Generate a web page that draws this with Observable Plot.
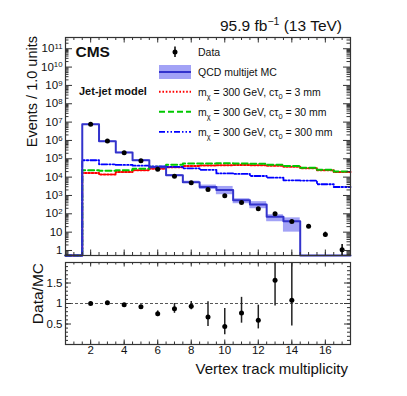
<!DOCTYPE html>
<html><head><meta charset="utf-8">
<script src="https://cdn.jsdelivr.net/npm/d3@7"></script>
<script src="https://cdn.jsdelivr.net/npm/@observablehq/plot@0.6"></script>
<style>
body{margin:0;background:#fff;}
#wrap{position:relative;width:407px;height:396px;font-family:"Liberation Sans",Arial,sans-serif;}
#wrap > svg{position:absolute;left:0;}
</style></head><body><div id="wrap"></div>
<script>
// ---- data ----
const bins = [1,2,3,4,5,6,7,8,9,10,11,12,13,14,15,16,17];
const mcQCD   = [0, 7.7e6, 9.1e5, 2.2e5, 8.3e4, 3.5e4, 1.26e4, 5.3e3, 2.9e3, 2.0e3, 540, 325, 70, 39, 0, 0, 0];
const mcLo    = [0, 7.5e6, 8.8e5, 2.1e5, 7.8e4, 3.2e4, 1.15e4, 4.6e3, 2.1e3, 1.1e3, 355, 190, 37, 10, 0, 0, 0];
const mcHi    = [0, 7.9e6, 9.4e5, 2.3e5, 8.8e4, 3.8e4, 1.38e4, 6.0e3, 3.7e3, 3.1e3, 665, 460, 89, 60, 0, 0, 0];
const sig3mm   = [0, 1.7e4, 1.4e4, 1.9e4, 2.4e4, 2.9e4, 3.5e4, 4.0e4, 4.3e4, 4.5e4, 4.6e4, 4.5e4, 4.2e4, 3.7e4, 3.0e4, 2.4e4, 1.9e4];
const sig30mm  = [0, 2.4e4, 2.2e4, 2.4e4, 2.9e4, 3.7e4, 4.8e4, 5.5e4, 5.6e4, 5.7e4, 5.6e4, 5.3e4, 4.7e4, 4.0e4, 3.2e4, 2.5e4, 2.0e4];
const sig300mm = [0, 8.3e4, 5.0e4, 4.6e4, 4.2e4, 3.9e4, 3.6e4, 3.0e4, 2.5e4, 1.6e4, 1.5e4, 1.15e4, 9.3e3, 6.7e3, 6.5e3, 4.1e3, 2.9e3];
const dataBins = [2,3,4,5,6,7,8,9,10,11,12,13,14,15,16,17];
const dataVal  = [7.7e6, 9.3e5, 2.1e5, 7.7e4, 2.7e4, 1.1e4, 5.0e3, 2.1e3, 950, 410, 190, 100, 38, 21, 7.4, 1.1];
const dataLo   = [7.69e6, 9.28e5, 2.09e5, 7.6e4, 2.65e4, 1.08e4, 4.9e3, 2.05e3, 920, 390, 176, 90, 32, 16, 5.4, 0.1];
const dataHi   = [7.71e6, 9.32e5, 2.11e5, 7.8e4, 2.75e4, 1.12e4, 5.1e3, 2.15e3, 980, 430, 204, 110, 45, 26, 10, 2.1];
const ratioBins = [2,3,4,5,6,7,8,9,10,11,12,13,14];
const ratioVal  = [1.00, 1.02, 0.97, 0.92, 0.75, 0.87, 0.93, 0.67, 0.44, 0.77, 0.59, 1.57, 1.08];
const ratioLo   = [0.99, 1.01, 0.95, 0.88, 0.68, 0.76, 0.85, 0.44, 0.24, 0.52, 0.38, 0.94, 0.45];
const ratioHi   = [1.01, 1.03, 0.99, 0.96, 0.82, 1.00, 1.05, 1.04, 0.88, 1.15, 0.96, 2.20, 2.20];
const yTicksTop = [1,10,1e2,1e3,1e4,1e5,1e6,1e7,1e8,1e9,1e10,1e11];
const xTicks = [2,4,6,8,10,12,14,16];
const ratioTicks = [0.5,1,1.5];
const legendLabels = ["Data","QCD multijet MC","3 mm","30 mm","300 mm"];

// ---- styles ----
const mcColor = "#3333cc", bandColor = "#6464f0";
const sigStyles = [
  {vals: sig3mm,   stroke:"#ff0000", dash:"1.6,1.8", w:2},
  {vals: sig30mm,  stroke:"#00c800", dash:"6,3", w:2},
  {vals: sig300mm, stroke:"#0000ff", dash:"6,2,1.5,2,1.5,2", w:1.8}
];
const axisCol = "#333";
const font = '"Liberation Sans", Arial, sans-serif';

const W = 407;
const xDom = [0.5, 17.5];
const yDom = [0.533, 4.1e11];
const topH = 258, topMT = 37, topMB = 3, ML = 65, MR = 57;
const fw = W - ML - MR, fhTop = topH - topMT - topMB;

const edges = bins.map(b => b - 0.5).concat([bins[bins.length-1] + 0.5]);
const stepData = vals => edges.map((e, i) => ({x: e, y: Math.max(vals[Math.min(i, vals.length-1)], yDom[0])}));
const band = bins.map((b,i) => ({x1: b-0.5, x2: b+0.5, lo: mcLo[i], hi: mcHi[i]})).filter(d => d.hi > 0);
const dataPts = dataBins.map((b,i) => ({x:b, y:dataVal[i], lo:dataLo[i], hi:dataHi[i]}));
const ratioPts = ratioBins.map((b,i) => ({x:b, y:ratioVal[i], lo:ratioLo[i], hi:ratioHi[i]}));

const logMinor = [];
for (let e = -1; e <= 11; e++) for (let k = 2; k <= 9; k++) { const v = k * 10**e; if (v >= yDom[0] && v <= yDom[1]) logMinor.push(v); }
const xMinor = d3.range(1, 35).map(i => i*0.5).filter(v => v > xDom[0] && v < xDom[1]);
const rMinor = d3.range(1, 20).map(i => i/10);

const tickMarksY = (maj, minr, w, lMaj, lMin) => [
  Plot.tickY(maj, {y: d=>d, insetRight: w - lMaj, stroke: axisCol}),
  Plot.tickY(maj, {y: d=>d, insetLeft: w - lMaj, stroke: axisCol}),
  Plot.tickY(minr, {y: d=>d, insetRight: w - lMin, stroke: axisCol}),
  Plot.tickY(minr, {y: d=>d, insetLeft: w - lMin, stroke: axisCol})
];
const tickMarksX = (maj, minr, h, lMaj, lMin) => [
  Plot.tickX(maj, {x: d=>d, insetTop: h - lMaj, stroke: axisCol}),
  Plot.tickX(maj, {x: d=>d, insetBottom: h - lMaj, stroke: axisCol}),
  Plot.tickX(minr, {x: d=>d, insetTop: h - lMin, stroke: axisCol}),
  Plot.tickX(minr, {x: d=>d, insetBottom: h - lMin, stroke: axisCol})
];

const fmtTop = d => d === 1 ? "1" : d === 10 ? "10" : "10^" + Math.round(Math.log10(d));

const topPlot = Plot.plot({
  width: W, height: topH, marginLeft: ML, marginRight: MR, marginTop: topMT, marginBottom: topMB,
  style: {fontFamily: font, fontSize: "11.5px", color: "#111", background: "transparent"},
  x: {domain: xDom, axis: null},
  y: {type: "log", domain: yDom},
  marks: [
    Plot.rect(band, {x1:"x1", x2:"x2", y1:"lo", y2:"hi", fill: bandColor, fillOpacity: 0.6}),
    ...sigStyles.map(s => Plot.line(stepData(s.vals), {x:"x", y:"y", curve:"step-after", stroke:s.stroke, strokeWidth:s.w, strokeDasharray:s.dash})),
    Plot.line(stepData(mcQCD), {x:"x", y:"y", curve:"step-after", stroke: mcColor, strokeWidth: 2}),
    Plot.ruleX(dataPts, {x:"x", y1:"lo", y2:"hi", stroke:"black", strokeWidth:1.5, clip:true}),
    Plot.dot(dataPts, {x:"x", y:"y", r:2.5, fill:"black"}),
    ...tickMarksY(yTicksTop, logMinor, fw, 7, 3.5),
    ...tickMarksX(xTicks, xMinor, fhTop, 5.5, 3),
    Plot.frame({stroke: axisCol, strokeWidth: 1.2}),
    Plot.axisY(yTicksTop, {tickSize: 0, tickPadding: 3, tickFormat: fmtTop, label: null})
  ]
});
topPlot.style.top = "0px";
// superscripts on log tick labels
d3.select(topPlot).selectAll('g[aria-label="y-axis tick label"] text').each(function() {
  const t = this.textContent, m = /^10\^(\d+)$/.exec(t);
  if (m) {
    const s = d3.select(this); s.text("");
    s.append("tspan").text("10");
    s.append("tspan").attr("dy", "-0.42em").attr("font-size", "0.68em").text(m[1]);
  }
});

const botTop = 258, botH = 138, botMT = 4, botMB = 52;
const fhBot = botH - botMT - botMB;
const botPlot = Plot.plot({
  width: W, height: botH, marginLeft: ML, marginRight: MR, marginTop: botMT, marginBottom: botMB,
  style: {fontFamily: font, fontSize: "11.5px", color: "#111", background: "transparent"},
  x: {domain: xDom},
  y: {domain: [0, 2]},
  marks: [
    Plot.ruleY([1], {stroke: "#444", strokeWidth: 0.9, strokeDasharray: "3,2"}),
    Plot.ruleX(ratioPts, {x:"x", y1:"lo", y2:"hi", stroke:"#222", strokeWidth:1.5, clip:true}),
    Plot.dot(ratioPts, {x:"x", y:"y", r:2.5, fill:"black"}),
    ...tickMarksY(ratioTicks, rMinor, fw, 6, 3),
    ...tickMarksX(xTicks, xMinor, fhBot, 4.5, 2.5),
    Plot.frame({stroke: axisCol, strokeWidth: 1.2}),
    Plot.axisY(ratioTicks, {tickSize: 0, tickPadding: 3, tickFormat: d => String(d), label: null}),
    Plot.axisX(xTicks, {tickSize: 0, tickPadding: 1.5, label: null})
  ]
});
botPlot.style.top = botTop + "px";

const wrap = document.getElementById("wrap");
wrap.appendChild(topPlot);
wrap.appendChild(botPlot);

// ---- overlay text: titles, labels, legend ----
const ov = d3.select(wrap).append("svg").attr("width", W).attr("height", 396)
  .style("position","absolute").style("top","0px").style("left","0px")
  .attr("font-family", font).attr("fill", "#111");

const hdr = ov.append("text").attr("x", 342).attr("y", 30.5).attr("text-anchor","end").attr("font-size", 15.5);
hdr.append("tspan").text("95.9 fb");
hdr.append("tspan").attr("dy", -5.5).attr("font-size", 10.5).text("\u22121");
hdr.append("tspan").attr("dy", 5.5).text(" (13 TeV)");

ov.append("text").attr("transform","translate(37,36) rotate(-90)").attr("text-anchor","end").attr("font-size",14.5).text("Events / 1.0 units");
ov.append("text").attr("transform","translate(42.5,263) rotate(-90)").attr("text-anchor","end").attr("font-size",15.5).text("Data/MC");
ov.append("text").attr("x",348).attr("y",374).attr("text-anchor","end").attr("font-size",15).text("Vertex track multiplicity");
ov.append("text").attr("x",75.5).attr("y",56.5).attr("font-weight","bold").attr("font-size",15.5).text("CMS");
ov.append("text").attr("x",79).attr("y",95).attr("font-weight","bold").attr("font-size",11).text("Jet-jet model");

const rowC = [52, 72, 91.8, 111.8, 131.8];
const lx0 = 159, lx1 = 191, lxc = 175, tx = 198;
// Data
ov.append("line").attr("x1",lxc).attr("x2",lxc).attr("y1",rowC[0]-5.5).attr("y2",rowC[0]+5).attr("stroke","black").attr("stroke-width",1.5);
ov.append("circle").attr("cx",lxc).attr("cy",rowC[0]).attr("r",2.5).attr("fill","black");
ov.append("text").attr("x",tx).attr("y",rowC[0]+4).attr("font-size",10.5).text(legendLabels[0]);
// MC
ov.append("rect").attr("x",lx0).attr("y",rowC[1]-7).attr("width",lx1-lx0).attr("height",14).attr("fill",bandColor).attr("fill-opacity",0.6);
ov.append("line").attr("x1",lx0).attr("x2",lx1).attr("y1",rowC[1]).attr("y2",rowC[1]).attr("stroke",mcColor).attr("stroke-width",2);
ov.append("text").attr("x",tx).attr("y",rowC[1]+4).attr("font-size",10.5).text(legendLabels[1]);
// signals
sigStyles.forEach((s, i) => {
  const c = rowC[i+2];
  ov.append("line").attr("x1",lx0).attr("x2",lx1).attr("y1",c).attr("y2",c).attr("stroke",s.stroke).attr("stroke-width",s.w).attr("stroke-dasharray",s.dash);
  const t = ov.append("text").attr("x",tx).attr("y",c+4).attr("font-size",10.5);
  t.append("tspan").text("m");
  t.append("tspan").attr("dy",3).attr("font-size",7.5).text("χ");
  t.append("tspan").attr("dy",-3).text(" = 300 GeV, cτ");
  t.append("tspan").attr("dy",3).attr("font-size",7.5).text("0");
  t.append("tspan").attr("dy",-3).text(" = " + legendLabels[i+2]);
});
</script></body></html>
